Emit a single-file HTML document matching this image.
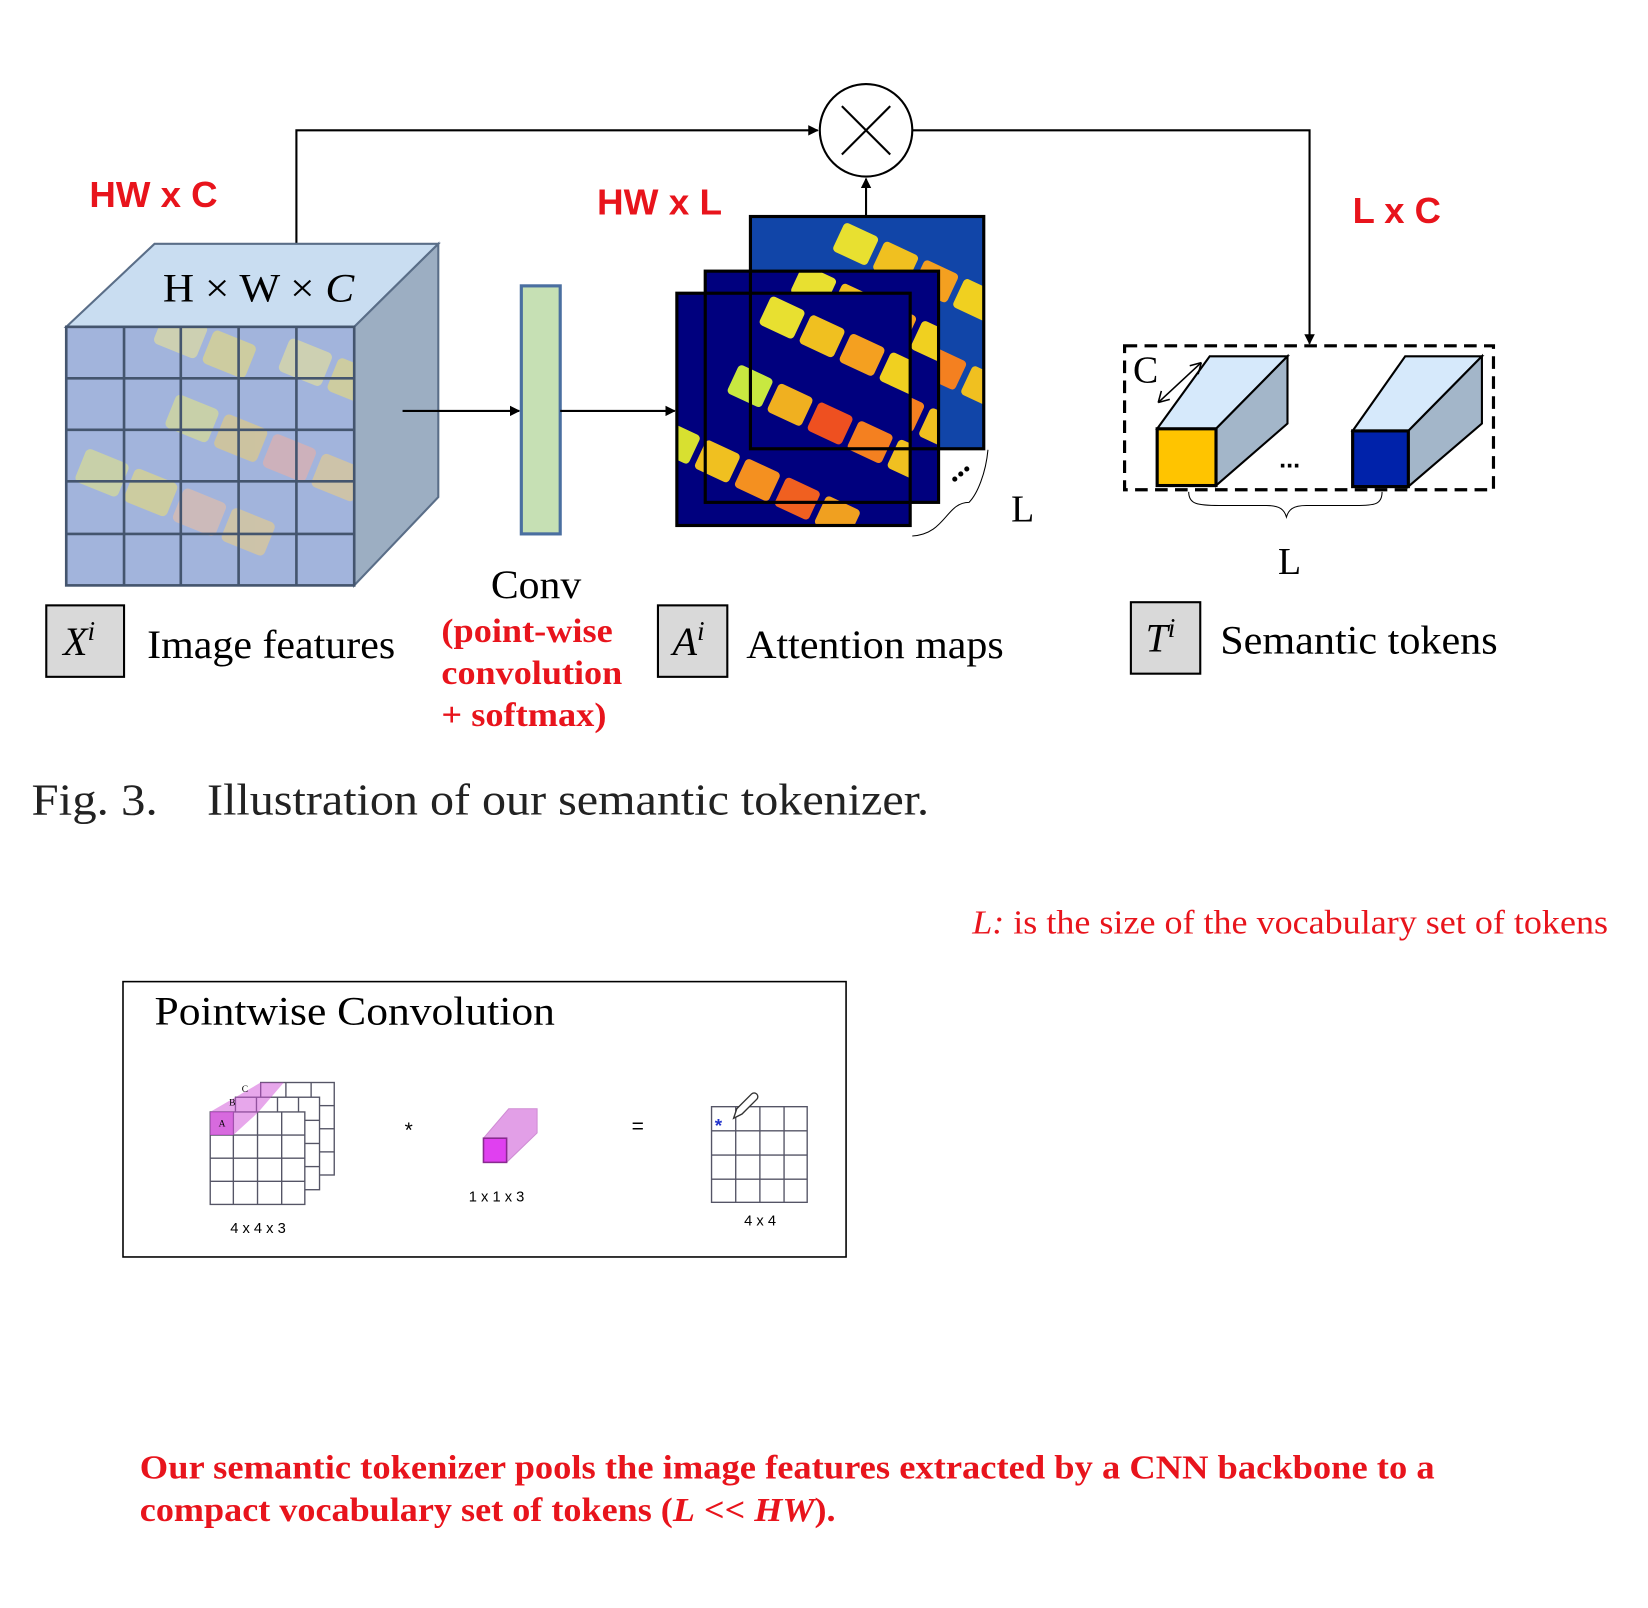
<!DOCTYPE html>
<html><head><meta charset="utf-8"><style>html,body{margin:0;padding:0;background:#fff}svg{display:block}</style></head>
<body>
<svg width="1648" height="1608" viewBox="0 0 1568 1530" xmlns="http://www.w3.org/2000/svg">
<defs>
<marker id="ah" markerWidth="10" markerHeight="10" refX="9" refY="5" orient="auto" markerUnits="userSpaceOnUse"><path d="M0,0 L10,5 L0,10 z" fill="#000"/></marker>
<clipPath id="cf"><rect x="644" y="279" width="222" height="221"/></clipPath>
<clipPath id="cm"><rect x="671" y="258" width="222" height="220"/></clipPath>
<clipPath id="cb"><rect x="714" y="206" width="222" height="221"/></clipPath>
<clipPath id="cc"><rect x="63" y="311" width="274" height="246"/></clipPath>
<g id="blobs">
<g transform="rotate(25 755 390)">
<rect x="690" y="300" width="36" height="30" rx="4" fill="#e8e030"/><rect x="732" y="300" width="36" height="30" rx="4" fill="#f0c020"/><rect x="774" y="300" width="36" height="30" rx="4" fill="#f4a020"/><rect x="816" y="300" width="36" height="30" rx="4" fill="#f0d020"/>
<rect x="690" y="372" width="36" height="30" rx="4" fill="#c8e840"/><rect x="732" y="372" width="36" height="30" rx="4" fill="#f0b020"/><rect x="774" y="372" width="36" height="30" rx="4" fill="#ee5020"/><rect x="816" y="372" width="36" height="30" rx="4" fill="#f48020"/><rect x="858" y="372" width="36" height="30" rx="4" fill="#f0c020"/>
<rect x="650" y="450" width="36" height="30" rx="4" fill="#d8e030"/><rect x="692" y="450" width="36" height="30" rx="4" fill="#f0c020"/><rect x="734" y="450" width="36" height="30" rx="4" fill="#f49020"/><rect x="776" y="450" width="36" height="30" rx="4" fill="#f06020"/><rect x="818" y="450" width="36" height="30" rx="4" fill="#f0a020"/>
</g>
</g>
</defs>

<polyline points="282,232 282,124 778,124" fill="none" stroke="#000" stroke-width="2" marker-end="url(#ah)"/>
<circle cx="824" cy="124" r="44" fill="#fff" stroke="#000" stroke-width="2"/>
<line x1="801" y1="101" x2="847" y2="147" stroke="#000" stroke-width="2"/>
<line x1="847" y1="101" x2="801" y2="147" stroke="#000" stroke-width="2"/>
<polyline points="868,124 1246,124 1246,327" fill="none" stroke="#000" stroke-width="2" marker-end="url(#ah)"/>
<line x1="824" y1="206" x2="824" y2="170" stroke="#000" stroke-width="2" marker-end="url(#ah)"/>

<g font-family="Liberation Sans, sans-serif" font-weight="bold" font-size="34" fill="#e8141c" lengthAdjust="spacingAndGlyphs">
<text x="85" y="197" textLength="122" lengthAdjust="spacingAndGlyphs">HW x C</text>
<text x="568" y="204" textLength="119" lengthAdjust="spacingAndGlyphs">HW x L</text>
<text x="1287" y="212" textLength="84" lengthAdjust="spacingAndGlyphs">L x C</text>
</g>

<polygon points="63,311 147,232 417,232 337,311" fill="#c9ddf1" stroke="#5a6e88" stroke-width="2"/>
<polygon points="337,311 417,232 417,473 337,557" fill="#9caec2" stroke="#5a6e88" stroke-width="2"/>
<rect x="63" y="311" width="274" height="246" fill="#a2b4dc"/>
<g clip-path="url(#cc)" opacity="0.55">
<g transform="rotate(22 200 430)">
<rect x="110" y="320" width="44" height="34" rx="5" fill="#f0e890"/><rect x="160" y="320" width="44" height="34" rx="5" fill="#f0e070"/><rect x="230" y="300" width="44" height="34" rx="5" fill="#f0e890"/><rect x="280" y="300" width="44" height="34" rx="5" fill="#f0e070"/>
<rect x="150" y="390" width="44" height="34" rx="5" fill="#e8e880"/><rect x="200" y="390" width="44" height="34" rx="5" fill="#f0d070"/><rect x="250" y="390" width="44" height="34" rx="5" fill="#f0b0a0"/><rect x="300" y="390" width="44" height="34" rx="5" fill="#f0d080"/>
<rect x="90" y="470" width="44" height="34" rx="5" fill="#e8e880"/><rect x="140" y="470" width="44" height="34" rx="5" fill="#f0e070"/><rect x="190" y="470" width="44" height="34" rx="5" fill="#f0c0a0"/><rect x="240" y="470" width="44" height="34" rx="5" fill="#f0d080"/>
</g></g>
<g stroke="#44556e" stroke-width="2.5" fill="none">
<rect x="63" y="311" width="274" height="246"/>
<line x1="118" y1="311" x2="118" y2="557"/><line x1="172" y1="311" x2="172" y2="557"/><line x1="227" y1="311" x2="227" y2="557"/><line x1="282" y1="311" x2="282" y2="557"/>
<line x1="63" y1="360" x2="337" y2="360"/><line x1="63" y1="409" x2="337" y2="409"/><line x1="63" y1="458" x2="337" y2="458"/><line x1="63" y1="508" x2="337" y2="508"/>
</g>
<text x="155" y="287" font-family="Liberation Serif, serif" font-size="38" textLength="182" lengthAdjust="spacingAndGlyphs">H × W × <tspan font-style="italic">C</tspan></text>

<line x1="383" y1="391" x2="494" y2="391" stroke="#000" stroke-width="2" marker-end="url(#ah)"/>
<rect x="496" y="272" width="37" height="236" fill="#c6e0b4" stroke="#4a6fa0" stroke-width="3"/>
<line x1="533" y1="391" x2="642" y2="391" stroke="#000" stroke-width="2" marker-end="url(#ah)"/>

<rect x="714" y="206" width="222" height="221" fill="#0a2a90"/>
<g clip-path="url(#cb)"><rect x="714" y="206" width="222" height="221" fill="#1860c0" opacity="0.5"/><use href="#blobs" transform="translate(70 -70)"/></g>
<rect x="671" y="258" width="222" height="220" fill="#00007e"/>
<g clip-path="url(#cm)"><use href="#blobs" transform="translate(30 -30)"/></g>
<rect x="644" y="279" width="222" height="221" fill="#00007e"/>
<g clip-path="url(#cf)"><use href="#blobs"/></g>
<g fill="none" stroke="#000" stroke-width="3">
<rect x="714" y="206" width="222" height="221"/>
<rect x="671" y="258" width="222" height="220"/>
<rect x="644" y="279" width="222" height="221"/>
</g>
<text x="900" y="455" font-family="Liberation Serif, serif" font-size="30" font-weight="bold" transform="rotate(-40 910 448)">...</text>
<path d="M868,510 C900,508 900,478 922,478 C930,470 938,450 940,428" fill="none" stroke="#000" stroke-width="1"/>
<text x="962" y="496" font-family="Liberation Serif, serif" font-size="36">L</text>

<rect x="1070" y="329" width="351" height="137" fill="none" stroke="#000" stroke-width="3" stroke-dasharray="12,7"/>
<polygon points="1101,408 1151,339 1225,339 1157,408" fill="#d6e9fb" stroke="#000" stroke-width="2"/>
<polygon points="1157,408 1225,339 1225,403 1157,462" fill="#a3b6c9" stroke="#000" stroke-width="2"/>
<rect x="1101" y="408" width="56" height="54" fill="#ffc400" stroke="#000" stroke-width="3"/>
<polygon points="1287,410 1337,339 1410,339 1340,410" fill="#d6e9fb" stroke="#000" stroke-width="2"/>
<polygon points="1340,410 1410,339 1410,403 1340,463" fill="#a3b6c9" stroke="#000" stroke-width="2"/>
<rect x="1287" y="410" width="53" height="53" fill="#0022aa" stroke="#000" stroke-width="3"/>
<text x="1078" y="364" font-family="Liberation Serif, serif" font-size="36">C</text>
<line x1="1102" y1="383" x2="1143" y2="345" stroke="#000" stroke-width="1.5"/>
<path d="M1102,383 l3,-11 M1102,383 l11,-3 M1143,345 l-3,11 M1143,345 l-11,3" stroke="#000" stroke-width="1.5" fill="none"/>
<text x="1217" y="445" font-family="Liberation Sans, sans-serif" font-weight="bold" font-size="24">...</text>
<path d="M1131,468 C1131,480 1140,481 1160,481 L1205,481 C1218,481 1222,485 1224,492 C1226,485 1230,481 1243,481 L1290,481 C1308,481 1315,480 1315,468" fill="none" stroke="#000" stroke-width="1"/>
<text x="1216" y="546" font-family="Liberation Serif, serif" font-size="36">L</text>

<g font-family="Liberation Serif, serif" font-size="38">
<rect x="44" y="576" width="74" height="68" fill="#d9d9d9" stroke="#000" stroke-width="2"/>
<text x="60" y="623" font-style="italic">X<tspan font-size="26" dy="-14">i</tspan></text>
<text x="140" y="626" textLength="236" lengthAdjust="spacingAndGlyphs">Image features</text>
<text x="467" y="569" textLength="86" lengthAdjust="spacingAndGlyphs">Conv</text>
<rect x="626" y="576" width="66" height="68" fill="#d9d9d9" stroke="#000" stroke-width="2"/>
<text x="640" y="623" font-style="italic">A<tspan font-size="26" dy="-14">i</tspan></text>
<text x="710" y="626" textLength="245" lengthAdjust="spacingAndGlyphs">Attention maps</text>
<rect x="1076" y="573" width="66" height="68" fill="#d9d9d9" stroke="#000" stroke-width="2"/>
<text x="1090" y="620" font-style="italic">T<tspan font-size="26" dy="-14">i</tspan></text>
<text x="1161" y="622" textLength="264" lengthAdjust="spacingAndGlyphs">Semantic tokens</text>
</g>
<g font-family="Liberation Serif, serif" font-weight="bold" font-size="32" fill="#e8141c">
<text x="420" y="611" textLength="163" lengthAdjust="spacingAndGlyphs">(point-wise</text>
<text x="420" y="651" textLength="172" lengthAdjust="spacingAndGlyphs">convolution</text>
<text x="420" y="691" textLength="157" lengthAdjust="spacingAndGlyphs">+ softmax)</text>
</g>

<g font-family="Liberation Serif, serif" font-size="42" fill="#222">
<text x="30" y="775" textLength="120" lengthAdjust="spacingAndGlyphs">Fig. 3.</text>
<text x="197" y="775" textLength="687" lengthAdjust="spacingAndGlyphs">Illustration of our semantic tokenizer.</text>
</g>
<text x="925" y="888" textLength="605" lengthAdjust="spacingAndGlyphs" font-family="Liberation Serif, serif" font-size="32" fill="#e8141c"><tspan font-style="italic">L:</tspan> is the size of the vocabulary set of tokens</text>

<rect x="117" y="934" width="688" height="262" fill="#fff" stroke="#000" stroke-width="1.5"/>
<text x="147" y="975" font-family="Liberation Serif, serif" font-size="38" textLength="381" lengthAdjust="spacingAndGlyphs">Pointwise Convolution</text>
<g stroke="#556" stroke-width="1.3" fill="#fff">
<rect x="248" y="1030" width="70" height="88"/>
<line x1="272" y1="1030" x2="272" y2="1044"/><line x1="296" y1="1030" x2="296" y2="1044"/><line x1="304" y1="1052" x2="318" y2="1052"/><line x1="304" y1="1074" x2="318" y2="1074"/><line x1="304" y1="1096" x2="318" y2="1096"/>
<rect x="224" y="1044" width="80" height="88"/>
<line x1="244" y1="1044" x2="244" y2="1058"/><line x1="264" y1="1044" x2="264" y2="1058"/><line x1="284" y1="1044" x2="284" y2="1058"/><line x1="290" y1="1066" x2="304" y2="1066"/><line x1="290" y1="1088" x2="304" y2="1088"/><line x1="290" y1="1110" x2="304" y2="1110"/>
<rect x="200" y="1058" width="90" height="88"/>
<line x1="222" y1="1058" x2="222" y2="1146"/><line x1="245" y1="1058" x2="245" y2="1146"/><line x1="268" y1="1058" x2="268" y2="1146"/>
<line x1="200" y1="1080" x2="290" y2="1080"/><line x1="200" y1="1102" x2="290" y2="1102"/><line x1="200" y1="1124" x2="290" y2="1124"/>
</g>
<polygon points="200,1058 224,1044 248,1030 270,1030 246,1058 222,1080 200,1080" fill="#d050d8" opacity="0.5"/>
<rect x="200" y="1058" width="22" height="22" fill="#d050d8" opacity="0.7"/>
<g font-family="Liberation Serif, serif" font-size="9"><text x="208" y="1072">A</text><text x="218" y="1052">B</text><text x="230" y="1039">C</text></g>
<text x="219" y="1173" font-family="Liberation Sans, sans-serif" font-size="14">4 x 4 x 3</text>
<text x="385" y="1082" font-family="Liberation Sans, sans-serif" font-size="20">*</text>
<polygon points="460,1083 484,1055 511,1055 511,1078 482,1106 460,1106" fill="#d060d8" opacity="0.6" stroke="#b040b8"/>
<rect x="460" y="1083" width="22" height="23" fill="#e040f0" stroke="#8a2a90" stroke-width="1.5"/>
<text x="446" y="1143" font-family="Liberation Sans, sans-serif" font-size="14">1 x 1 x 3</text>
<text x="601" y="1078" font-family="Liberation Sans, sans-serif" font-size="20">=</text>
<g stroke="#556" stroke-width="1.3" fill="#fff">
<rect x="677" y="1053" width="91" height="91"/>
<line x1="700" y1="1053" x2="700" y2="1144"/><line x1="723" y1="1053" x2="723" y2="1144"/><line x1="746" y1="1053" x2="746" y2="1144"/>
<line x1="677" y1="1076" x2="768" y2="1076"/><line x1="677" y1="1099" x2="768" y2="1099"/><line x1="677" y1="1122" x2="768" y2="1122"/>
</g>
<text x="680" y="1077" font-family="Liberation Sans, sans-serif" font-size="18" fill="#2233cc" font-weight="bold">*</text>
<path d="M698,1064 l3,-9 l14,-14 a3,3 0 0 1 5,5 l-14,14 z" fill="#fff" stroke="#333" stroke-width="1.3"/>
<text x="708" y="1166" font-family="Liberation Sans, sans-serif" font-size="14">4 x 4</text>

<g font-family="Liberation Serif, serif" font-weight="bold" font-size="32" fill="#e8141c">
<text x="133" y="1407" textLength="1232" lengthAdjust="spacingAndGlyphs">Our semantic tokenizer pools the image features extracted by a CNN backbone to a</text>
<text x="133" y="1447" textLength="662" lengthAdjust="spacingAndGlyphs">compact vocabulary set of tokens (<tspan font-style="italic">L</tspan> &lt;&lt; <tspan font-style="italic">HW</tspan>).</text>
</g>
</svg>
</body></html>
